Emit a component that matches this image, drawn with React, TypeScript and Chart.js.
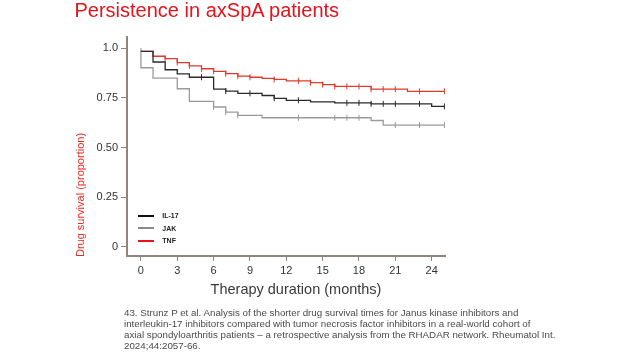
import React, { useEffect, useRef } from "react";
import { Chart, registerables } from "chart.js";

Chart.register(...registerables);

// ---- data ----
const xTickValues = [0, 3, 6, 9, 12, 15, 18, 21, 24];
const yTickValues = [0, 0.25, 0.5, 0.75, 1.0];
const yTickLabels = ["0", "0.25", "0.50", "0.75", "1.0"];

const il17Times = [0, 1, 2, 3, 4, 6, 7, 8, 10, 11, 12, 14, 16, 19, 24, 25.05];
const il17Values = [0.985, 0.931, 0.892, 0.871, 0.854, 0.794, 0.784, 0.773, 0.762, 0.748, 0.738, 0.73, 0.725, 0.72, 0.707, 0.707];
const il17Censor = [5, 7, 9, 11, 13, 17, 18, 19, 20, 21, 23, 25.05];

const jakTimes = [0, 0, 1, 3, 4, 6, 7, 8, 10, 19, 20, 25.05];
const jakValues = [1.0, 0.902, 0.85, 0.796, 0.732, 0.704, 0.678, 0.662, 0.65, 0.636, 0.613, 0.613];
const jakCensor = [6, 7, 8, 13, 16, 17, 18, 21, 23, 25.05];

const tnfTimes = [0, 1, 2, 3, 4, 5, 6, 7, 8, 9, 10, 11, 12, 14, 15, 16, 19, 22, 25.05];
const tnfValues = [0.985, 0.96, 0.948, 0.928, 0.911, 0.897, 0.884, 0.872, 0.86, 0.854, 0.848, 0.843, 0.836, 0.827, 0.817, 0.808, 0.794, 0.783, 0.783];
const tnfCensor = [2, 3, 4, 5, 6, 7, 8, 9, 11, 13, 14, 15, 16, 17, 18, 19, 20, 21, 23, 25.05];

const seriesNames = ["IL-17", "JAK", "TNF"];
const seriesColors = ["#2a2a2a", "#9a9a9a", "#e2392d"];
const legendColors = ["#111111", "#8a8a8a", "#e8141c"];

const AXIS_COLOR = "#8c8580";
const FONT = "'Liberation Sans', Arial, sans-serif";

function stepPoints(times: number[], values: number[]) {
  return times.map((t, i) => ({ x: t, y: values[i] }));
}

function censorPoints(times: number[], values: number[], censor: number[]) {
  return censor.map((c) => {
    let v = values[0];
    for (let i = 0; i < times.length; i++) {
      if (times[i] <= c) v = values[i];
    }
    return { x: c, y: v };
  });
}

function lineDs(label: string, data: any[], color: string) {
  return {
    type: "line" as const,
    label,
    data,
    borderColor: color,
    borderWidth: 1.3,
    stepped: "before" as const,
    pointRadius: 0,
    pointHoverRadius: 0,
    fill: false,
  };
}

function censorDs(label: string, data: any[], color: string) {
  return {
    type: "line" as const,
    label,
    data,
    showLine: false,
    borderColor: color,
    backgroundColor: color,
    pointStyle: "line" as const,
    pointRotation: 90,
    pointRadius: 3,
    pointHoverRadius: 3,
    pointBorderWidth: 1,
    pointBorderColor: color,
  };
}

export default function App() {
  const canvasRef = useRef<HTMLCanvasElement | null>(null);

  useEffect(() => {
    if (!canvasRef.current) return;
    Chart.defaults.font.family = FONT;
    const chart = new Chart(canvasRef.current, {
      type: "line",
      data: {
        datasets: [
          censorDs("IL-17 censored", censorPoints(il17Times, il17Values, il17Censor), seriesColors[0]),
          lineDs(seriesNames[0], stepPoints(il17Times, il17Values), seriesColors[0]),
          censorDs("TNF censored", censorPoints(tnfTimes, tnfValues, tnfCensor), seriesColors[2]),
          lineDs(seriesNames[2], stepPoints(tnfTimes, tnfValues), seriesColors[2]),
          censorDs("JAK censored", censorPoints(jakTimes, jakValues, jakCensor), seriesColors[1]),
          lineDs(seriesNames[1], stepPoints(jakTimes, jakValues), seriesColors[1]),
        ] as any,
      },
      options: {
        responsive: false,
        animation: false,
        events: [],
        layout: { padding: { left: 0, right: 179, top: 37, bottom: 0 } },
        plugins: {
          legend: { display: false },
          tooltip: { enabled: false },
          title: { display: false },
        },
        scales: {
          x: {
            type: "linear",
            min: -1.15,
            max: 25.1,
            afterFit: (s: any) => {
              s.height = 96;
            },
            afterBuildTicks: (s: any) => {
              s.ticks = xTickValues.map((v) => ({ value: v }));
            },
            ticks: {
              color: "#333",
              font: { size: 11, family: FONT },
              padding: 3,
              maxRotation: 0,
              autoSkip: false,
              callback: (v: any) => String(v),
            },
            grid: {
              drawOnChartArea: false,
              drawTicks: true,
              tickLength: 5,
              color: AXIS_COLOR,
              tickColor: AXIS_COLOR,
              tickWidth: 1,
            },
            border: { color: AXIS_COLOR, width: 2 },
          },
          y: {
            type: "linear",
            min: -0.047,
            max: 1.057,
            afterFit: (s: any) => {
              s.width = 127;
            },
            afterBuildTicks: (s: any) => {
              s.ticks = yTickValues.map((v) => ({ value: v }));
            },
            ticks: {
              color: "#333",
              font: { size: 11, family: FONT },
              padding: 3,
              autoSkip: false,
              callback: (v: any) => {
                const i = yTickValues.indexOf(Number(v));
                return i >= 0 ? yTickLabels[i] : "";
              },
            },
            grid: {
              drawOnChartArea: false,
              drawTicks: true,
              tickLength: 6,
              color: AXIS_COLOR,
              tickColor: AXIS_COLOR,
              tickWidth: 1,
            },
            border: { color: AXIS_COLOR, width: 2 },
          },
        },
      },
    });
    return () => chart.destroy();
  }, []);

  const legendY = [215.5, 228.3, 240.5];

  return (
    <div
      style={{
        position: "absolute",
        left: 0,
        top: 0,
        width: 624,
        height: 352,
        background: "#fff",
        fontFamily: FONT,
        overflow: "hidden",
      }}
    >
      <canvas ref={canvasRef} width={624} height={352} style={{ position: "absolute", left: 0, top: 0 }} />
      <div
        style={{
          position: "absolute",
          left: 74.5,
          top: 0,
          fontSize: 20,
          lineHeight: "20px",
          color: "#e3141b",
          whiteSpace: "nowrap",
        }}
      >
        Persistence in axSpA patients
      </div>
      <div
        style={{
          position: "absolute",
          left: 80,
          top: 195,
          fontSize: 11,
          lineHeight: "11px",
          color: "#ea2a22",
          whiteSpace: "nowrap",
          transform: "translate(-50%, -50%) rotate(-90deg)",
        }}
      >
        Drug survival (proportion)
      </div>
      <div
        style={{
          position: "absolute",
          left: 296,
          top: 288.5,
          fontSize: 14.5,
          lineHeight: "15px",
          color: "#3a3a3a",
          whiteSpace: "nowrap",
          transform: "translate(-50%, -50%)",
        }}
      >
        Therapy duration (months)
      </div>
      {seriesNames.map((name, i) => (
        <React.Fragment key={name}>
          <div
            style={{
              position: "absolute",
              left: 137.5,
              top: legendY[i] - 1,
              width: 16.5,
              height: 2,
              background: legendColors[i],
            }}
          />
          <div
            style={{
              position: "absolute",
              left: 162.3,
              top: legendY[i] - 4.5,
              fontSize: 7,
              lineHeight: "9px",
              fontWeight: "bold",
              fontFamily: "'Liberation Sans Narrow', 'Liberation Sans', Arial, sans-serif",
              color: "#222",
              whiteSpace: "nowrap",
            }}
          >
            {name}
          </div>
        </React.Fragment>
      ))}
      <div
        style={{
          position: "absolute",
          left: 124,
          top: 306.8,
          fontSize: 9.75,
          lineHeight: "11.1px",
          color: "#4a4a4a",
          whiteSpace: "nowrap",
        }}
      >
        43. Strunz P et al. Analysis of the shorter drug survival times for Janus kinase inhibitors and
        <br />
        interleukin-17 inhibitors compared with tumor necrosis factor inhibitors in a real-world cohort of
        <br />
        axial spondyloarthritis patients – a retrospective analysis from the RHADAR network. Rheumatol Int.
        <br />
        2024;44:2057-66.
      </div>
    </div>
  );
}
